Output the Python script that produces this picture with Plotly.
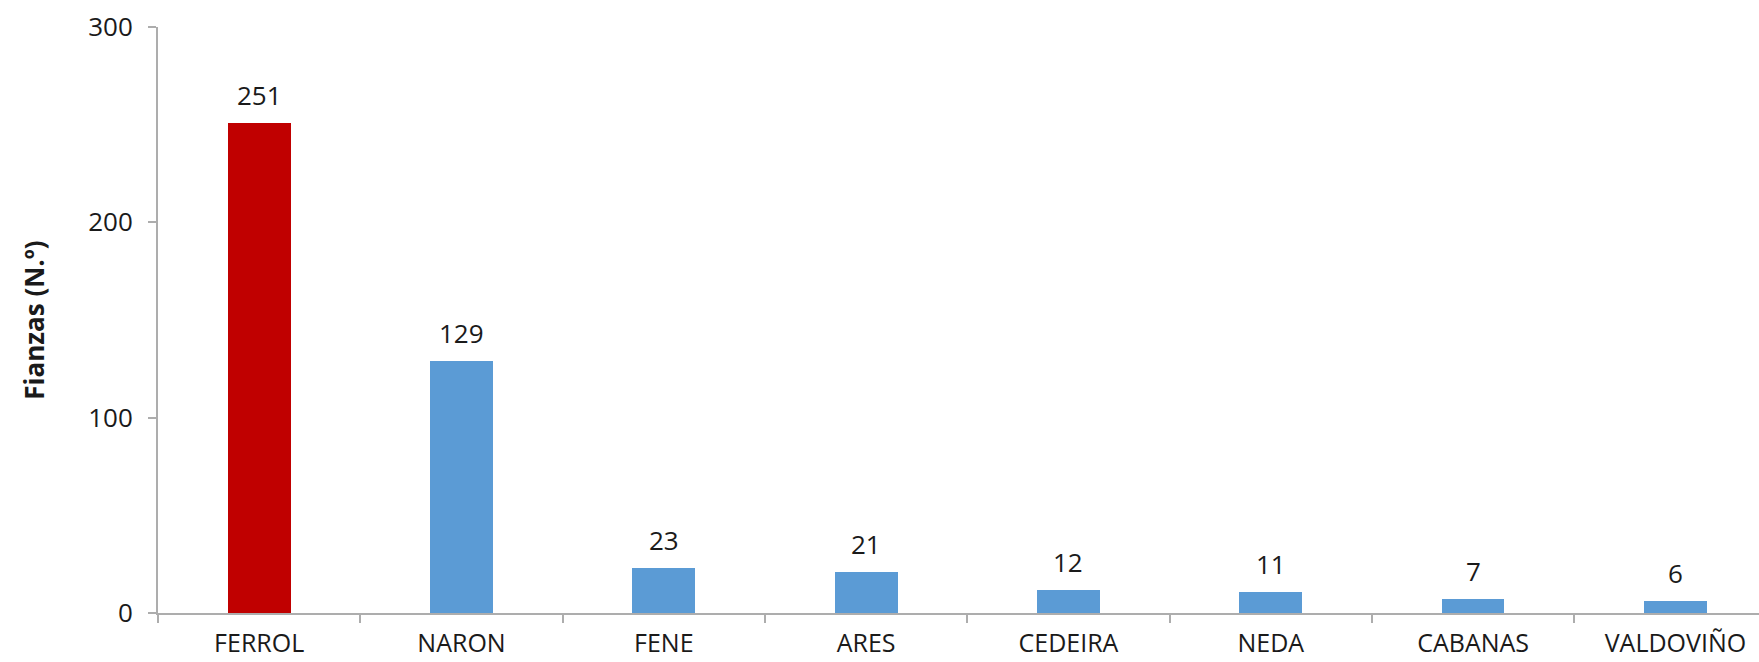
import plotly.graph_objects as go

municipios = ["FERROL", "NARON", "FENE", "ARES", "CEDEIRA", "NEDA", "CABANAS", "VALDOVIÑO"]
fianzas = [251, 129, 23, 21, 12, 11, 7, 6]
y_ticks = [0, 100, 200, 300]

RED = "#C00000"
BLUE = "#5B9BD5"
AXIS_GREY = "#ADADAD"
TEXT = "#1a1a1a"
FONT = "Open Sans"

colors = [RED if m == "FERROL" else BLUE for m in municipios]

fig = go.Figure()
fig.add_trace(go.Bar(
    x=municipios,
    y=fianzas,
    marker=dict(color=colors, line=dict(width=0)),
    width=0.31,
    hoverinfo="x+y",
))

# value labels above each bar
for m, v in zip(municipios, fianzas):
    fig.add_annotation(
        x=m, y=v, text=str(v), showarrow=False,
        yanchor="middle", yshift=28,
        font=dict(family=FONT, size=26, color=TEXT),
    )

# the category axis is slightly wider than the page, so the last slot is clipped
fig.update_xaxes(
    type="category",
    range=[-0.5, 7.413],
    showline=True, linecolor=AXIS_GREY, linewidth=2,
    ticks="outside", tickson="boundaries", ticklen=8, tickwidth=2, tickcolor=AXIS_GREY,
    tickfont=dict(family=FONT, size=25, color=TEXT),
    ticklabelstandoff=7,
    showgrid=False, zeroline=False,
    automargin=False,
)
fig.update_yaxes(
    range=[0, 300],
    tickvals=y_ticks,
    showline=True, linecolor=AXIS_GREY, linewidth=2,
    ticks="outside", ticklen=8, tickwidth=2, tickcolor=AXIS_GREY,
    tickfont=dict(family=FONT, size=26, color=TEXT),
    ticklabelstandoff=10,
    showgrid=False, zeroline=False,
    automargin=False,
    title=dict(text="<b>Fianzas (N.º)</b>", font=dict(family=FONT, size=26, color=TEXT), standoff=36),
)
fig.update_layout(
    width=1759, height=662,
    margin=dict(l=158, r=0, t=27, b=49),
    plot_bgcolor="white", paper_bgcolor="white",
    showlegend=False,
    bargap=0,
)
fig.write_html("out.html")
